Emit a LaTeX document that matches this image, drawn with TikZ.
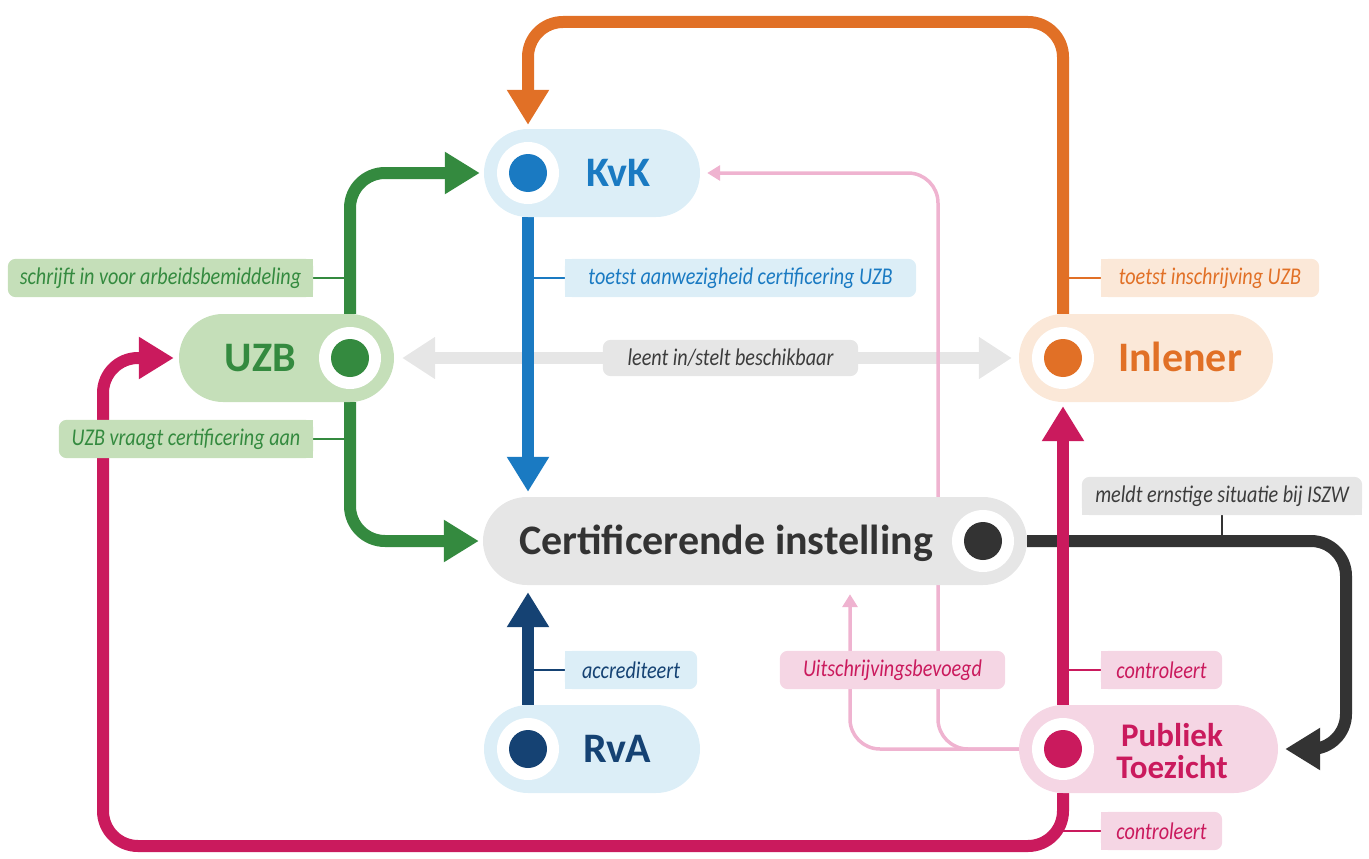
\documentclass[tikz,border=0pt]{standalone}
\usepackage{fontspec}
\setmainfont{Carlito}
\newfontfamily\labfont{Carlito}[FakeStretch=0.84]
\usetikzlibrary{arrows.meta}
\definecolor{cgreen}{HTML}{348A3F}
\definecolor{lgreen}{HTML}{C5DFB9}
\definecolor{cblue}{HTML}{1A7AC2}
\definecolor{lblue}{HTML}{DCEEF7}
\definecolor{cnavy}{HTML}{154273}
\definecolor{corange}{HTML}{E17026}
\definecolor{lorange}{HTML}{FBE8D8}
\definecolor{cred}{HTML}{CA1A5D}
\definecolor{lred}{HTML}{F5D6E4}
\definecolor{cpink}{HTML}{EFB3D0}
\definecolor{cdark}{HTML}{333333}
\definecolor{lgrey}{HTML}{E6E6E6}
\definecolor{tgrey}{HTML}{3C3C3C}
\pgfdeclarelayer{conn}
\pgfdeclarelayer{labbg}
\pgfsetlayers{conn,labbg,main}
% label backgrounds: all rounded / square right / square left / square bottom
\newcommand\bgall[2]{\fill[#2,rounded corners=8pt] (#1.south west) rectangle (#1.north east);}
\newcommand\bgsqr[2]{\fill[#2,rounded corners=8pt] (#1.south west) rectangle (#1.north east);\fill[#2] (#1.south) rectangle (#1.north east);}
\newcommand\bgsql[2]{\fill[#2,rounded corners=8pt] (#1.south west) rectangle (#1.north east);\fill[#2] (#1.south west) rectangle (#1.north);}
\newcommand\bgsqb[2]{\fill[#2,rounded corners=8pt] (#1.south west) rectangle (#1.north east);\fill[#2] (#1.south west) rectangle (#1.east);}
\tikzset{
  pill/.style={rounded corners=44pt, minimum height=88pt, inner sep=0pt, draw=none},
  pring/.style={circle, fill=white, minimum size=62pt, inner sep=0pt},
  pdot/.style={circle, minimum size=38pt, inner sep=0pt},
  title/.style={font=\bfseries\fontsize{42}{46}\selectfont, anchor=base, inner sep=0pt},
  lab/.style={font=\labfont\itshape\fontsize{24}{26}\selectfont, minimum height=38pt, inner sep=0pt},
  fat/.style={line width=12pt, rounded corners=35pt},
  bigtip/.style={-{Triangle[length=35pt,width=40pt]}},
  pinkline/.style={line width=3.5pt, cpink, rounded corners=30pt, -{Triangle[length=13pt,width=15pt]}},
  ticker/.style={line width=2pt},
}
\begin{document}
\begin{tikzpicture}[x=1pt,y=-1pt]
\useasboundingbox (0,0) rectangle (1369,859);
% helper coordinates
\coordinate (otop) at (0,22);
\coordinate (cbl) at (103,846);
\coordinate (bk) at (1346,0);
\coordinate (pk1) at (938,0);
\coordinate (pk2) at (850,0);

% ---- KvK
\node[pill, fill=lblue, minimum width=216pt] (kvk) at (592,173) {};
\node[pring] (kvkr) at (528,173) {};
\node[pdot, fill=cblue] (kvkdot) at (528,173) {};
\node[title, text=cblue] (kvkt) at (618,186.5) {KvK};
% ---- UZB
\node[pill, fill=lgreen, minimum width=215pt] (uzb) at (286.5,358) {};
\node[pring] (uzbr) at (350,358) {};
\node[pdot, fill=cgreen] (uzbdot) at (350,358) {};
\node[title, text=cgreen] (uzbt) at (260.5,371.5) {UZB};
% ---- Inlener
\node[pill, fill=lorange, minimum width=254pt] (inl) at (1146,358) {};
\node[pring] (inlr) at (1063,358) {};
\node[pdot, fill=corange] (inldot) at (1063,358) {};
\node[title, text=corange] (inlt) at (1180,371.5) {Inlener};
% ---- Certificerende instelling
\node[pill, fill=lgrey, minimum width=544pt] (ci) at (755,541) {};
\node[pring] (cir) at (983,541) {};
\node[pdot, fill=cdark] (cidot) at (983,541) {};
\node[title, text=cdark] (cit) at (726,554.5) {Certificerende instelling};
% ---- RvA
\node[pill, fill=lblue, minimum width=216pt] (rva) at (592,749) {};
\node[pring] (rvar) at (528,749) {};
\node[pdot, fill=cnavy] (rvadot) at (528,749) {};
\node[title, text=cnavy] (rvat) at (617,762.5) {RvA};
% ---- Publiek Toezicht
\node[pill, fill=lred, minimum width=259pt] (pt) at (1148.5,749) {};
\node[pring] (ptr) at (1063,749) {};
\node[pdot, fill=cred] (ptdot) at (1063,749) {};
\node[font=\bfseries\fontsize{33}{32}\selectfont, align=center, inner sep=0pt, text=cred] (ptt) at (1172,751) {Publiek\\Toezicht};

% ---- labels
\node[lab, text=cgreen, minimum width=305pt] (lsch) at (160.5,278) {schrijft in voor arbeidsbemiddeling};
\node[lab, text=cgreen, minimum width=254pt] (luzb) at (186,439) {UZB vraagt certificering aan};
\node[lab, text=cblue, minimum width=351pt] (ltoa) at (740.5,278) {toetst aanwezigheid certificering UZB};
\node[lab, text=corange, minimum width=218pt] (ltoi) at (1210,278) {toetst inschrijving UZB};
\node[lab, text=cnavy, minimum width=132pt] (lacc) at (631,670) {accrediteert};
\node[lab, text=cred, minimum width=121pt] (lcon1) at (1161.5,670) {controleert};
\node[lab, text=cred, minimum width=121pt] (lcon2) at (1161.5,831) {controleert};
\node[lab, text=cred, minimum width=225pt] (luit) at (892.5,670) {Uitschrijvingsbevoegd};
\node[lab, text=tgrey, minimum width=280pt] (lmeld) at (1222,496) {meldt ernstige situatie bij ISZW};
\node[lab, text=tgrey, minimum width=255pt, minimum height=36pt] (lleen) at (730.5,358) {leent in/stelt beschikbaar};

\begin{pgfonlayer}{labbg}
\bgsqr{lsch}{lgreen}
\bgsqr{luzb}{lgreen}
\bgsql{ltoa}{lblue}
\bgsql{ltoi}{lorange}
\bgsql{lacc}{lblue}
\bgsql{lcon1}{lred}
\bgsql{lcon2}{lred}
\bgall{luit}{lred}
\bgsqb{lmeld}{lgrey}
\bgall{lleen}{lgrey}
\end{pgfonlayer}

\begin{pgfonlayer}{conn}
% grey double arrow
\draw[line width=12pt, lgrey, {Triangle[length=33pt,width=40pt]}-{Triangle[length=33pt,width=40pt]}, shorten <=8pt, shorten >=7pt] (uzb.east) -- (inl.west);
% pink lines
\draw[pinkline, shorten >=7pt] (pt.west) -- (pk1 |- pt.west) -- (pk1 |- kvk) -- (kvk.east);
\draw[pinkline, shorten >=9pt] (pt.west) -- (pk2 |- pt.west) -- (pk2 |- ci.south);
% green
\draw[fat, cgreen, bigtip, shorten >=4pt] (uzbdot |- uzb.north) -- (uzbdot |- kvk) -- (kvk.west);
\draw[fat, cgreen, bigtip, shorten >=4pt] (uzbdot |- uzb.south) -- (uzbdot |- ci) -- (ci.west);
% blue
\draw[fat, cblue, bigtip, shorten >=5pt] (kvkdot |- kvk.south) -- (kvkdot |- ci.north);
% navy
\draw[fat, cnavy, bigtip, shorten >=7pt] (rvadot |- rva.north) -- (rvadot |- ci.south);
% orange
\draw[fat, corange, bigtip, shorten >=4pt] (inldot |- inl.north) -- (inldot |- otop) -- (kvkdot |- otop) -- (kvkdot |- kvk.north);
% black
\draw[fat, cdark, bigtip, shorten >=7pt] (ci.east) -- (bk |- ci.east) -- (bk |- pt.east) -- (pt.east);
% crimson
\draw[fat, cred, bigtip, shorten >=4pt] (ptdot |- pt.north) -- (ptdot |- inl.south);
\draw[fat, cred, bigtip, shorten >=5pt] (ptdot |- pt.south) -- (ptdot |- cbl) -- (cbl) -- (cbl |- uzb) -- (uzb.west);
% ticks
\draw[ticker, cgreen] (uzbdot |- lsch) -- (lsch.east);
\draw[ticker, cgreen] (uzbdot |- luzb) -- (luzb.east);
\draw[ticker, cblue] (kvkdot |- ltoa) -- (ltoa.west);
\draw[ticker, corange] (inldot |- ltoi) -- (ltoi.west);
\draw[ticker, cnavy] (rvadot |- lacc) -- (lacc.west);
\draw[ticker, cred] (ptdot |- lcon1) -- (lcon1.west);
\draw[ticker, cred] (ptdot |- lcon2) -- (lcon2.west);
\draw[ticker, cdark] (lmeld.south) -- (lmeld |- ci);
\end{pgfonlayer}
\end{tikzpicture}
\end{document}
